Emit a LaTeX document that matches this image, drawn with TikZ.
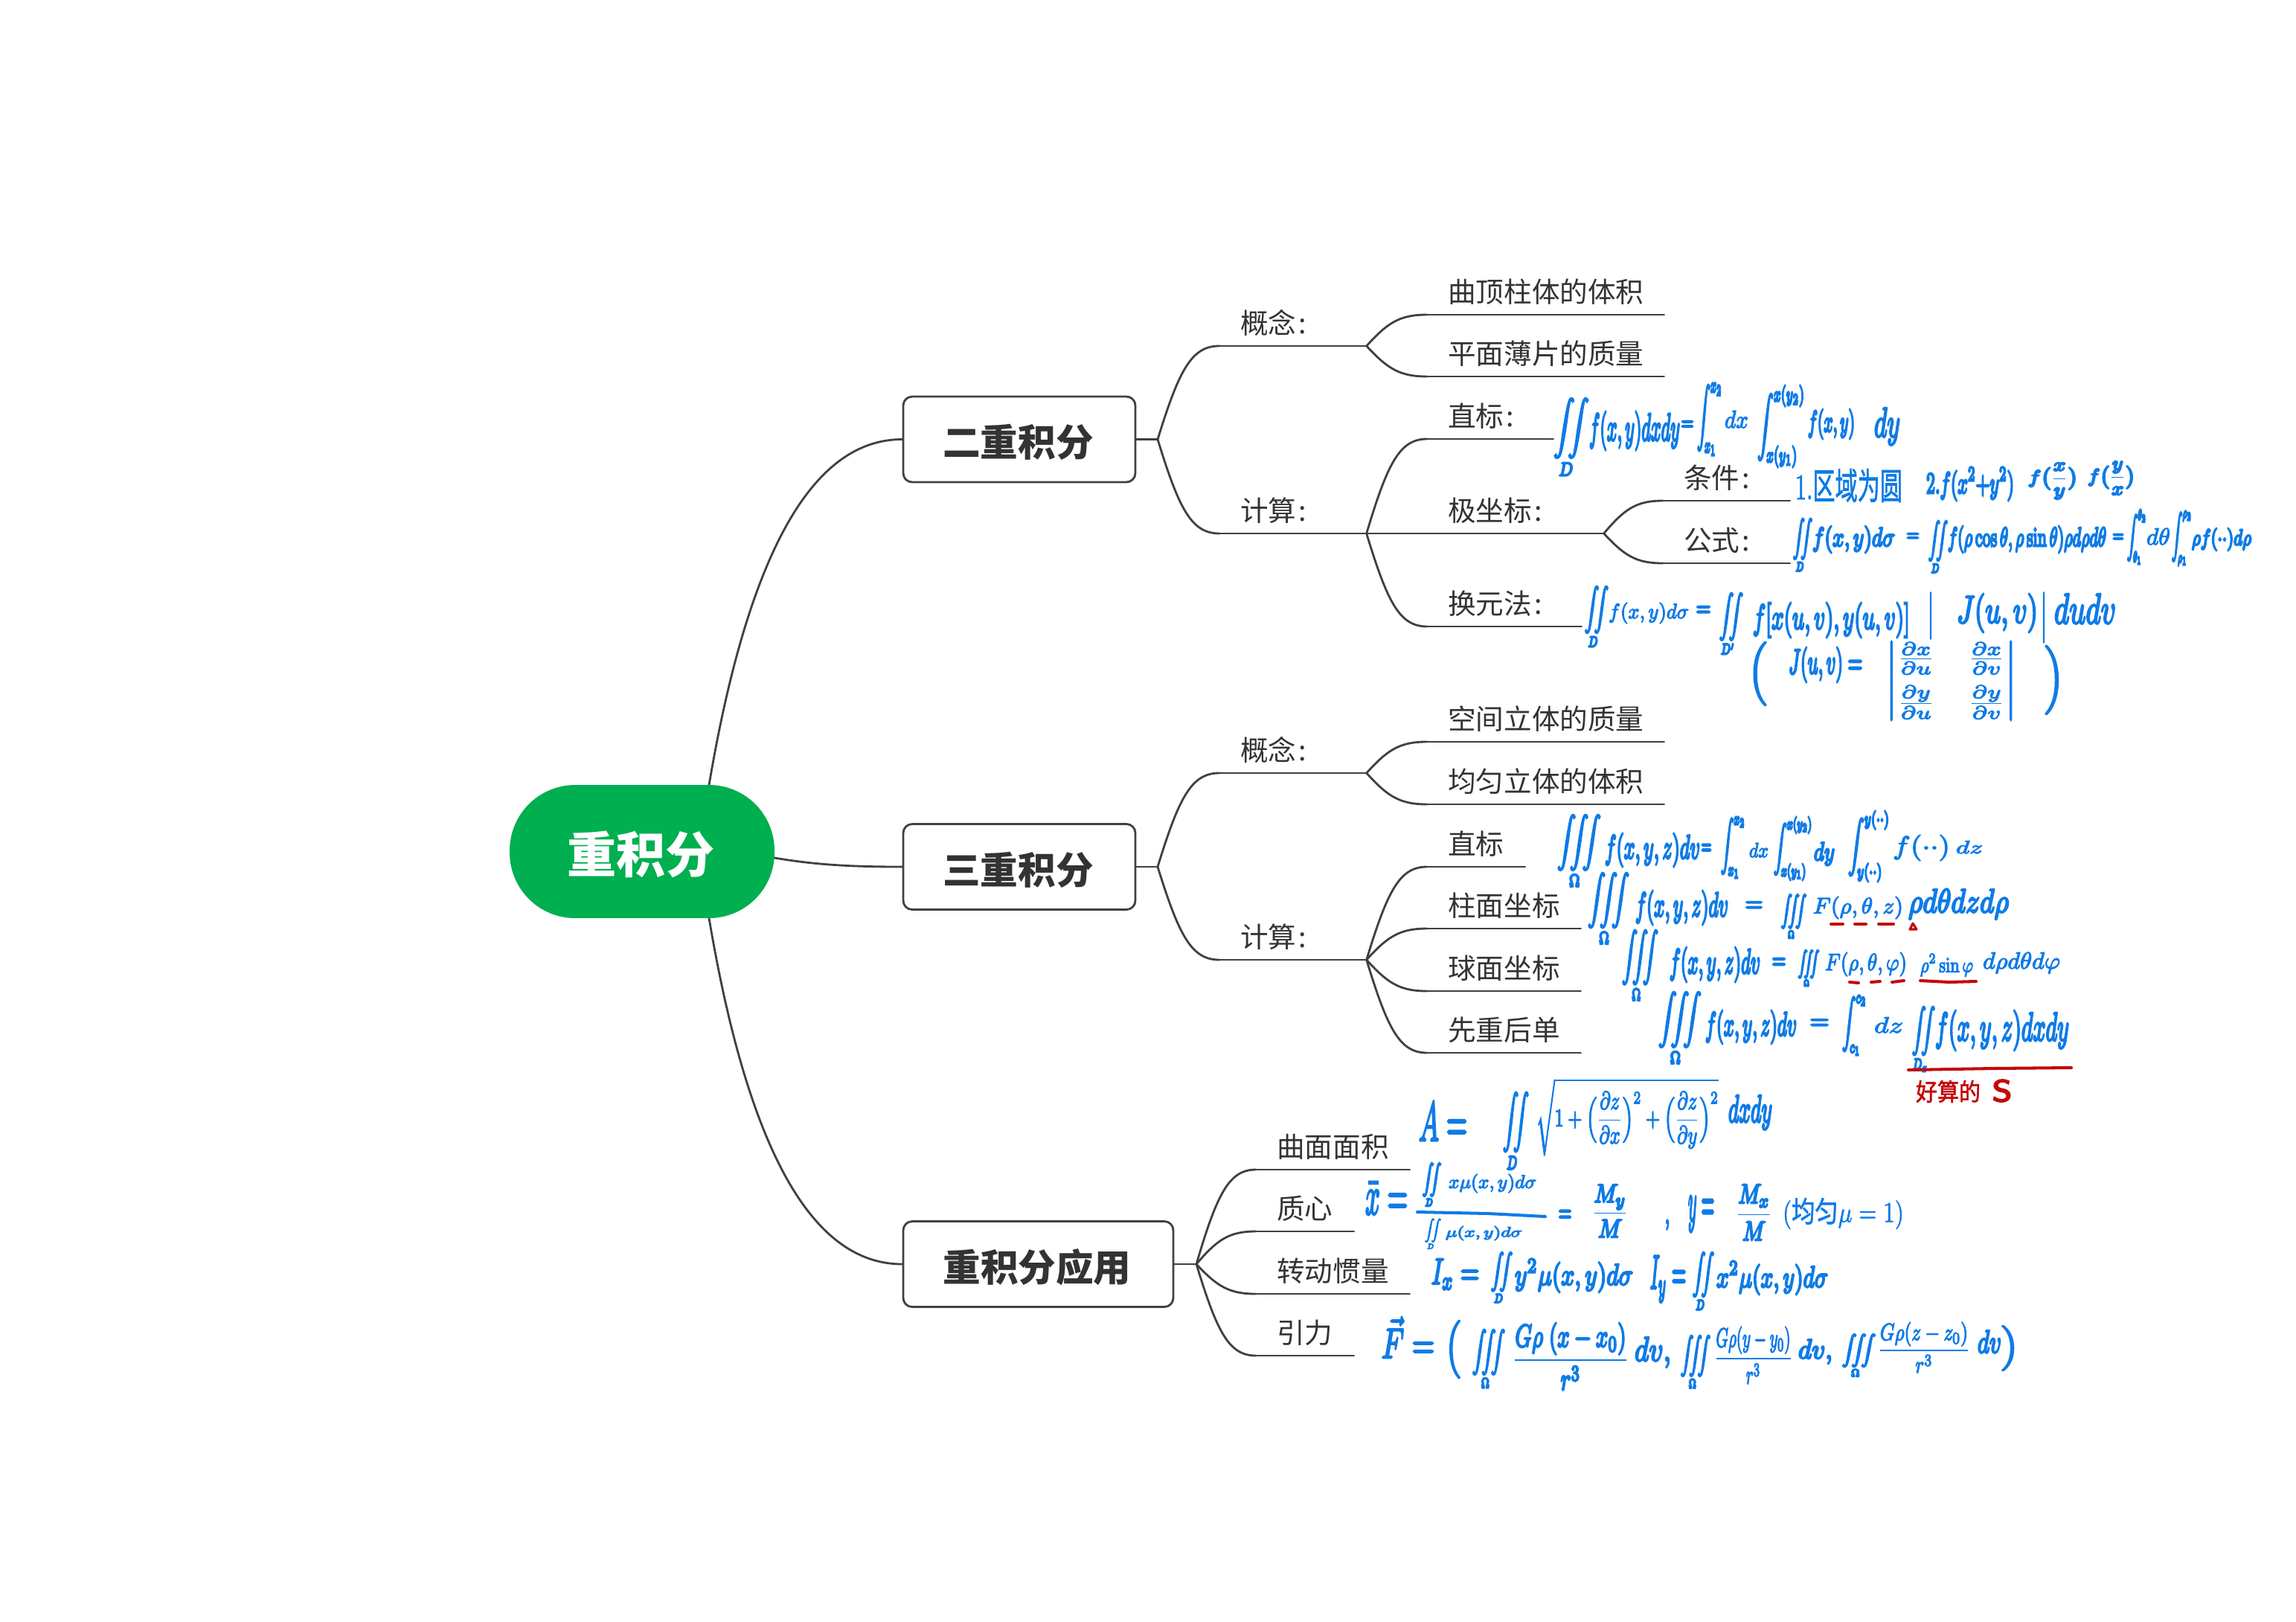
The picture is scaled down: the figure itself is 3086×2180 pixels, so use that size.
\documentclass[tikz,border=0pt]{standalone}
\usepackage{amsmath}
\usepackage[no-math]{fontspec}
\setmainfont{Noto Sans CJK SC}
\newfontfamily\cjk{Noto Sans CJK SC}
\usetikzlibrary{calc}
\definecolor{inkblue}{HTML}{0F7BE6}
\definecolor{inkred}{HTML}{C40A0A}
\definecolor{linkgray}{HTML}{404040}
\definecolor{txtgray}{HTML}{333333}
\definecolor{rootgreen}{HTML}{00AF50}
\def\rginkblue{0.059 0.482 0.902 RG}
\def\rginkred{0.769 0.039 0.039 RG}
\newdimen\pxu \pxu=0.02cm
\newsavebox\fmbox
\newcounter{fmc}
\def\fweight{1.3}
\newcommand\thinink{\def\fweight{0.7}}
\newcommand\faintink{\def\fweight{0.35}}
\newcommand\fullink{\def\fweight{1.3}}
\tikzset{
  link/.style={draw=linkgray,line width=1.6pt,line cap=round},
  rootbox/.style={rectangle,rounded corners=1.76cm,fill=rootgreen,text=white,minimum width=7.12cm,minimum height=3.58cm,text height=1.16cm,text depth=0pt,font=\fontsize{37.6}{40}\selectfont\bfseries,inner sep=0pt},
  mainbox/.style={rectangle,rounded corners=0.24cm,draw=linkgray,line width=1.6pt,fill=white,text=txtgray,minimum height=2.3cm,text height=0.93cm,text depth=0pt,font=\fontsize{28.8}{32}\selectfont\bfseries,inner sep=0pt},
  lbl/.style={anchor=south west,inner xsep=0.56cm,inner ysep=0.32cm,text depth=0pt,align=left,text=txtgray,font=\fontsize{21.4}{25}\selectfont},
  inkmark/.style={draw=inkred,line width=2.3pt,line cap=round},
  inkline/.style={draw=inkblue,line width=2.3pt,line cap=round},
  inktext/.style={inner sep=0pt},
}
\newcommand\topic[5]{%
  \pgfmathsetlengthmacro\tw{(#3-#2+28-56)*\pxu}%
  \node[lbl,text width=\tw] (#1) at (#2-28,#4) {#5};
  \draw[link] (#1.south west) -- (#1.south east);}
\newcommand\branch[2]{%
  \draw[link] let \p1=(#1),\p2=(#2) in (\p1) .. controls ({\x1+0.35*(\x2-\x1)},{\y1+0.75*(\y2-\y1)}) and ({\x1+0.55*(\x2-\x1)},\y2) .. (\p2);}
% [colour] x0,y0,x1,y1, content: a formula piece fitted to a box
\newcommand\fp[6][inkblue]{%
  \stepcounter{fmc}%
  \pgfmathsetlengthmacro\fw{(#4-#2)*\pxu}%
  \pgfmathsetlengthmacro\fh{(#5-#3)*\pxu}%
  \sbox\fmbox{\pgfinterruptpicture\color{#1}$\displaystyle #6$\endpgfinterruptpicture}%
  \pgfmathsetmacro\wval{\fweight/sqrt((\fw/\wd\fmbox)*(\fh/(\ht\fmbox+\dp\fmbox)))}%
  \node[inktext,text=#1] (fm\arabic{fmc}) at ({(#2+#4)/2},{(#3+#5)/2}) {\special{pdf:code 2 Tr \wval\space w \csname rg#1\endcsname}\resizebox*{\fw}{\fh}{\usebox\fmbox}\special{pdf:code 0 Tr}};}
\newcommand\tint[1]{\iiint\limits_{#1}}
\newcommand\dint[1]{\iint\limits_{#1}}
\begin{document}
\begin{tikzpicture}[x=0.02cm,y=-0.02cm]
\useasboundingbox (0,0) rectangle (3086,2180);
\fill[white] (0,0) rectangle (3086,2180);

\coordinate (rA) at (953,1055);
\coordinate (rB) at (1041,1153);
\coordinate (rC) at (953,1234);
\node[mainbox,minimum width=6.24cm] (A) at (1370,590.5) {\kern-0.06cm 二重积分};
\node[mainbox,minimum width=6.24cm] (B) at (1370,1165) {\kern-0.06cm 三重积分};
\node[mainbox,minimum width=7.26cm] (C) at (1395.5,1699) {\kern-0.06cm 重积分应用};
\draw[link] (rA) .. controls (1013,700) and (1110,590.5) .. (A.west);
\draw[link] (rB) .. controls (1100,1163) and (1150,1165) .. (B.west);
\draw[link] (rC) .. controls (1013,1590) and (1110,1699) .. (C.west);
\node[rootbox] (root) at (863,1144.5) {\kern-0.05cm 重积分};

\coordinate (jA) at (1556,590.5);
\coordinate (jB) at (1556,1165);
\coordinate (jC) at (1608,1699);
\draw[link] (A.east) -- (jA);
\draw[link] (B.east) -- (jB);
\draw[link] (C.east) -- (jC);

% --- double integral
\topic{ac}{1667}{1836}{465}{概念\kern0.06cm:}
\topic{ak}{1667}{1836}{717}{计算\kern0.06cm:}
\branch{jA}{ac.south west}
\branch{jA}{ak.south west}
\topic{ac1}{1946}{2236}{423}{曲顶柱体的体积}
\topic{ac2}{1946}{2236}{506}{平面薄片的质量}
\branch{ac.south east}{ac1.south west}
\branch{ac.south east}{ac2.south west}
\topic{ak1}{1946}{2087}{590}{直标\kern0.06cm:}
\topic{ak2}{1946}{2155}{717}{极坐标\kern0.06cm:}
\topic{ak3}{1946}{2125}{842}{换元法\kern0.06cm:}
\branch{ak.south east}{ak1.south west}
\draw[link] (ak.south east) -- (ak2.south west);
\branch{ak.south east}{ak3.south west}
\topic{ap1}{2263}{2405}{673}{条件\kern0.06cm:}
\topic{ap2}{2263}{2405}{757}{公式\kern0.06cm:}
\branch{ak2.south east}{ap1.south west}
\branch{ak2.south east}{ap2.south west}

% --- triple integral
\topic{bc}{1667}{1836}{1039}{概念\kern0.06cm:}
\topic{bk}{1667}{1836}{1290}{计算\kern0.06cm:}
\branch{jB}{bc.south west}
\branch{jB}{bk.south west}
\topic{bc1}{1946}{2236}{997}{空间立体的质量}
\topic{bc2}{1946}{2236}{1081}{均匀立体的体积}
\branch{bc.south east}{bc1.south west}
\branch{bc.south east}{bc2.south west}
\topic{bk1}{1946}{2049}{1165}{直标}
\topic{bk2}{1946}{2124}{1248}{柱面坐标}
\topic{bk3}{1946}{2124}{1332}{球面坐标}
\topic{bk4}{1946}{2124}{1415}{先重后单}
\branch{bk.south east}{bk1.south west}
\branch{bk.south east}{bk2.south west}
\branch{bk.south east}{bk3.south west}
\branch{bk.south east}{bk4.south west}

% --- applications
\topic{c1}{1716}{1894}{1572}{曲面面积}
\topic{c2}{1716}{1819}{1655}{质心}
\topic{c3}{1716}{1894}{1739}{转动惯量}
\topic{c4}{1716}{1819}{1822}{引力}
\branch{jC}{c1.south west}
\branch{jC}{c2.south west}
\branch{jC}{c3.south west}
\branch{jC}{c4.south west}

% --- handwritten formulas, piece by piece
\fp{2088}{535}{2136}{643}{\dint{D}}
\fp{2136}{553}{2258}{605}{f(x,y)dxdy}
\fp{2260}{566}{2276}{578}{=}
\fp{2281}{515}{2315}{612}{\int_{x_1}^{x_2}}
\thinink
\fp{2318}{552}{2350}{575}{dx}
\fullink
\fp{2362}{518}{2426}{628}{\int_{x(y_1)}^{x(y_2)}}
\fp{2430}{550}{2493}{590}{f(x,y)}
\fp{2519}{548}{2554}{598}{dy}

\faintink
\fp{2413}{630}{2557}{675}{1.\mbox{\cjk 区域为圆}}
\fullink
\fp{2589}{628}{2707}{673}{2.f(x^2{+}y^2)}
\fp{2726}{622}{2793}{671}{f\bigl(\frac{x}{y}\bigr)}
\fp{2806}{620}{2870}{665}{f\bigl(\frac{y}{x}\bigr)}

\fp{2410}{697}{2436}{770}{\dint{D}}
\fp{2436}{707}{2547}{743}{f(x,y)d\sigma}
\fp{2563}{717}{2579}{727}{=}
\fp{2592}{700}{2618}{772}{\dint{D}}
\fp{2618}{707}{2831}{743}{f(\rho\cos\theta,\rho\sin\theta)\rho d\rho d\theta}
\fp{2840}{718}{2854}{728}{=}
\fp{2859}{685}{2885}{758}{\int_{\theta_1}^{\theta_2}}
\thinink
\fp{2885}{710}{2917}{732}{d\theta}
\fullink
\fp{2919}{687}{2946}{760}{\int_{\rho_1}^{\rho_2}}
\fp{2946}{710}{3026}{740}{\rho f(\cdot\cdot)d\rho}

\fp{2130}{788}{2162}{872}{\dint{D}}
\thinink
\fp{2162}{810}{2270}{838}{f(x,y)d\sigma}
\fullink
\fp{2280}{815}{2299}{828}{=}
\fp{2311}{797}{2343}{882}{\dint{D'}}
\fp{2356}{810}{2567}{857}{f[x(u,v),y(u,v)]}
\fp{2592}{797}{2598}{858}{|}
\fp{2630}{798}{2739}{850}{J(u,v)}
\fp{2744}{797}{2750}{863}{|}
\fp{2761}{798}{2844}{838}{dudv}

\fp{2350}{863}{2375}{948}{\Bigl(}
\fp{2404}{870}{2503}{917}{J(u,v)=}
\thinink
\fp{2535}{862}{2710}{968}{\begin{vmatrix}\frac{\partial x}{\partial u}&\frac{\partial x}{\partial v}\\[4pt]\frac{\partial y}{\partial u}&\frac{\partial y}{\partial v}\end{vmatrix}}
\fullink
\fp{2748}{868}{2774}{960}{\Bigr)}

\fp{2093}{1095}{2152}{1195}{\tint{\Omega}}
\fp{2157}{1120}{2285}{1165}{f(x,y,z)dv}
\fp{2287}{1135}{2300}{1148}{=}
\fp{2313}{1098}{2346}{1180}{\int_{x_1}^{x_2}}
\thinink
\fp{2351}{1133}{2377}{1152}{dx}
\fullink
\fp{2384}{1098}{2436}{1183}{\int_{x(y_1)}^{x(y_2)}}
\fp{2438}{1132}{2466}{1163}{dy}
\fp{2484}{1090}{2540}{1185}{\int_{y(\cdot\cdot)}^{y(\cdot\cdot)}}
\thinink
\fp{2544}{1122}{2621}{1157}{f(\cdot\cdot)}
\fp{2629}{1130}{2665}{1147}{dz}
\fullink

\fp{2134}{1173}{2190}{1272}{\tint{\Omega}}
\fp{2198}{1197}{2323}{1243}{f(x,y,z)dv}
\fp{2346}{1212}{2369}{1225}{=}
\fp{2394}{1202}{2428}{1263}{\tint{\Omega}}
\thinink
\fp{2437}{1205}{2558}{1235}{F(\rho,\theta,z)}
\fullink
\fp{2565}{1195}{2700}{1235}{\rho d\theta dzd\rho}

\fp{2180}{1250}{2229}{1348}{\tint{\Omega}}
\fp{2244}{1273}{2366}{1320}{f(x,y,z)dv}
\fp{2382}{1288}{2400}{1302}{=}
\fp{2417}{1277}{2445}{1327}{\tint{\Omega}}
\thinink
\fp{2453}{1280}{2563}{1312}{F(\rho,\theta,\varphi)}
\fp{2581}{1282}{2652}{1312}{\rho^2\sin\varphi}
\fp{2665}{1280}{2769}{1308}{d\rho d\theta d\varphi}
\fullink

\fp{2229}{1333}{2287}{1433}{\tint{\Omega}}
\fp{2292}{1358}{2415}{1403}{f(x,y,z)dv}
\fp{2433}{1370}{2458}{1383}{=}
\fp{2476}{1338}{2509}{1418}{\int_{c_1}^{c_2}}
\thinink
\fp{2519}{1367}{2558}{1388}{dz}
\fullink
\fp{2570}{1353}{2601}{1443}{\dint{D_z}}
\fp{2601}{1358}{2781}{1412}{f(x,y,z)dxdy}

\fp{1907}{1482}{1972}{1533}{A=}
\fp{2020}{1468}{2055}{1575}{\dint{D}}
\thinink
\fp{2065}{1450}{2310}{1553}{\sqrt{1+\Bigl(\frac{\partial z}{\partial x}\Bigr)^2+\Bigl(\frac{\partial z}{\partial y}\Bigr)^2}}
\fullink
\fp{2323}{1472}{2382}{1518}{dxdy}

\fp{1835}{1590}{1892}{1632}{\bar{x}=}
\fp{1912}{1563}{1937}{1623}{\dint{D}}
\thinink
\fp{1947}{1578}{2065}{1603}{x\mu(x,y)d\sigma}
\draw[inkline] (1905,1629) -- (2000,1631) -- (2077,1635);
\fp{1915}{1638}{1937}{1680}{\dint{D}}
\fp{1943}{1648}{2046}{1667}{\mu(x,y)d\sigma}
\fullink
\fp{2095}{1627}{2112}{1642}{=}
\fp{2139}{1592}{2189}{1663}{\frac{M_y}{M}}
\fp{2238}{1640}{2244}{1652}{,}
\fp{2269}{1608}{2304}{1655}{y=}
\fp{2333}{1592}{2382}{1667}{\frac{M_x}{M}}
\faintink
\fp{2396}{1610}{2559}{1652}{(\mbox{\cjk 均匀}\mu=1)}
\fullink

\fp{1924}{1692}{1988}{1733}{I_x=}
\fp{2004}{1683}{2033}{1753}{\dint{D}}
\fp{2036}{1692}{2195}{1737}{y^2\mu(x,y)d\sigma}
\fp{2218}{1688}{2266}{1750}{I_y=}
\fp{2275}{1683}{2304}{1763}{\dint{D}}
\fp{2307}{1695}{2457}{1740}{x^2\mu(x,y)d\sigma}

\fp{1857}{1770}{1928}{1825}{\vec{F}=}
\fp{1943}{1775}{1963}{1852}{\Bigl(}
\fp{1979}{1787}{2023}{1868}{\tint{\Omega}}
\fp{2033}{1778}{2189}{1868}{\frac{G\rho\;(x-x_0)}{r^3}}
\fp{2197}{1797}{2246}{1838}{dv,}
\fp{2259}{1795}{2299}{1868}{\tint{\Omega}}
\thinink
\fp{2304}{1783}{2409}{1860}{\frac{G\rho(y-y_0)}{r^3}}
\fullink
\fp{2417}{1800}{2463}{1833}{dv,}
\fp{2476}{1793}{2521}{1852}{\tint{\Omega}}
\thinink
\fp{2524}{1777}{2648}{1845}{\frac{G\rho(z-z_0)}{r^3}}
\fullink
\fp{2658}{1788}{2690}{1818}{dv}
\fp{2690}{1782}{2713}{1842}{\Bigr)}

% --- red marks
\draw[inkmark] (2461,1242) -- (2477,1242) (2493,1242) -- (2508,1242) (2525,1242) -- (2545,1242);
\draw[inkmark,line width=1.8pt,line join=round] (2567,1249) -- (2571,1241) -- (2576,1249) -- cycle;
\draw[inkmark] (2486,1320) -- (2498,1321) (2515,1320) -- (2527,1319) (2543,1320) -- (2559,1318);
\draw[inkmark] (2581,1318) -- (2620,1320) -- (2656,1319);
\draw[inkmark] (2565,1438) -- (2680,1436) -- (2784,1435);
\faintink
\fp[inkred]{2575}{1452}{2662}{1482}{\mbox{\cjk 好算的}}
\fullink
\fp[inkred]{2678}{1452}{2704}{1480}{\mathsf{S}}
\end{tikzpicture}
\end{document}
